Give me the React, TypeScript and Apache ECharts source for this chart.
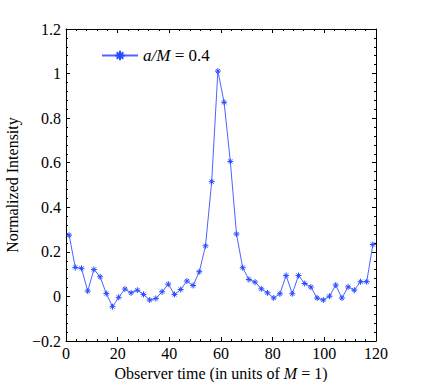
import React, { useEffect, useRef } from "react";
import * as echarts from "echarts";

const xValues = [
  1.2, 3.6, 6, 8.4, 10.8, 13.2, 15.6, 18, 20.4, 22.8, 25.2, 27.6, 30, 32.4, 34.8, 37.2,
  39.6, 42, 44.4, 46.8, 49.2, 51.6, 54, 56.4, 58.8, 61.2, 63.6, 66, 68.4, 70.8, 73.2,
  75.6, 78, 80.4, 82.8, 85.2, 87.6, 90, 92.4, 94.8, 97.2, 99.6, 102, 104.4, 106.8,
  109.2, 111.6, 114, 116.4, 118.8,
];
const intensity = [
  0.275, 0.13, 0.126, 0.024, 0.121, 0.088, 0.013, -0.046, -0.004, 0.033, 0.016, 0.028,
  0.009, -0.016, -0.009, 0.021, 0.055, 0.009, 0.031, 0.069, 0.049, 0.111, 0.227, 0.515,
  1.011, 0.871, 0.606, 0.28, 0.129, 0.076, 0.064, 0.034, 0.016, -0.007, 0.012, 0.094,
  0.012, 0.094, 0.058, 0.042, -0.007, -0.016, 0.001, 0.051, -0.007, 0.043, 0.028, 0.066,
  0.066, 0.233,
];
const xTicks = [0, 20, 40, 60, 80, 100, 120];
const yTicks = [-0.2, 0, 0.2, 0.4, 0.6, 0.8, 1, 1.2];
const seriesName = "a/M = 0.4";

const FONT = "Liberation Serif";
const STAR = "path://M5,0L5,10M0,5L10,5M1.6,1.6L8.4,8.4M8.4,1.6L1.6,8.4";

export default function App() {
  const ref = useRef<HTMLDivElement>(null);
  useEffect(() => {
    document.body.style.margin = "0";
    if (!ref.current) return;
    const chart = echarts.init(ref.current, undefined, { renderer: "svg" });
    const serif = (size: number, italic = false) => ({
      fontFamily: FONT,
      fontSize: size,
      fontStyle: italic ? "italic" : "normal",
      color: "#000",
    });
    const axisCommon = {
      axisLine: { show: true, onZero: false, lineStyle: { color: "#000", width: 1 } },
      axisTick: { show: true, inside: true, length: 4, lineStyle: { color: "#000" } },
      minorTick: { show: true, splitNumber: 5, length: 2, lineStyle: { color: "#000" } },
      splitLine: { show: false },
    };
    const xBase = {
      type: "value",
      min: xTicks[0],
      max: xTicks[xTicks.length - 1],
      interval: xTicks[1] - xTicks[0],
      ...axisCommon,
    };
    const yBase = {
      type: "value",
      min: yTicks[0],
      max: yTicks[yTicks.length - 1],
      interval: 0.2,
      ...axisCommon,
    };
    chart.setOption({
      animation: false,
      backgroundColor: "#fff",
      textStyle: { fontFamily: FONT },
      grid: {
        left: 66,
        right: 51,
        top: 29,
        bottom: 41,
        containLabel: false,
        outerBoundsMode: "none",
      },
      legend: {
        show: true,
        left: 96,
        top: 42,
        itemWidth: 36,
        itemHeight: 12,
        data: [seriesName],
        formatter: () => "{i|a/M}{n| = 0.4}",
        textStyle: {
          ...serif(17),
          rich: { i: serif(17, true), n: serif(17) },
        },
      },
      xAxis: [
        {
          ...xBase,
          position: "bottom",
          axisLabel: {
            show: true,
            margin: 4,
            ...serif(16),
            formatter: (v: number) => `{n|${v}}`,
            rich: { n: serif(16) },
          },
          name: "{n|Observer time (in units of }{i|M}{n| = 1)}",
          nameLocation: "middle",
          nameGap: 21,
          nameTextStyle: {
            ...serif(16),
            rich: { i: serif(16, true), n: serif(16) },
          },
        },
        { ...xBase, position: "top", axisLabel: { show: false } },
      ],
      yAxis: [
        {
          ...yBase,
          position: "left",
          axisLabel: {
            show: true,
            margin: 5,
            ...serif(16),
            formatter: (v: number) => {
              const s = String(Number(v.toFixed(1))).replace("-", "\u2212");
              return `{n|${s}}`;
            },
            rich: { n: serif(16) },
          },
          name: "Normalized Intensity",
          nameLocation: "middle",
          nameGap: 46,
          nameTextStyle: serif(16),
        },
        { ...yBase, position: "right", axisLabel: { show: false } },
      ],
      series: [
        {
          name: seriesName,
          type: "line",
          xAxisIndex: 0,
          yAxisIndex: 0,
          data: xValues.map((x, i) => [x, intensity[i]]),
          symbol: STAR,
          symbolSize: 6,
          showSymbol: true,
          lineStyle: { color: "#4a66ff", width: 1 },
          itemStyle: { color: "rgba(0,0,0,0)", borderColor: "#2a4cff", borderWidth: 1 },
        },
      ],
    });
    return () => chart.dispose();
  }, []);
  return <div ref={ref} style={{ width: 427, height: 382 }} />;
}
